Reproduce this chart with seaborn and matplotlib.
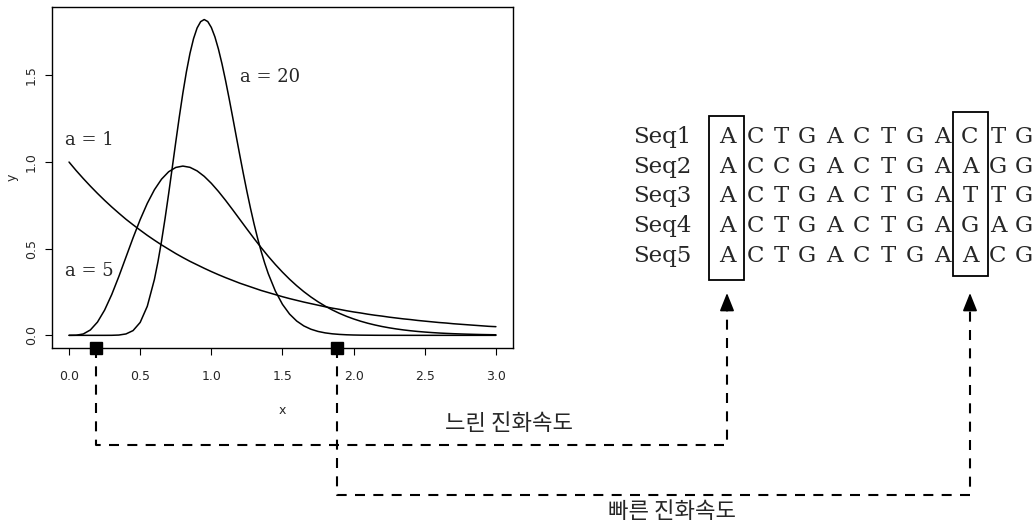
import numpy as np
import matplotlib
matplotlib.use('Agg')
import matplotlib.pyplot as plt
import matplotlib.transforms as mtransforms
from matplotlib import font_manager
from matplotlib.patches import Rectangle
import seaborn as sns

# gamma densities (shape a, rate a)
x_grid = np.linspace(0, 3, 61)
y_a1 = [1.000, 0.951, 0.905, 0.861, 0.819, 0.779, 0.741, 0.705, 0.670, 0.638,
        0.607, 0.577, 0.549, 0.522, 0.497, 0.472, 0.449, 0.427, 0.407, 0.387,
        0.368, 0.350, 0.333, 0.317, 0.301, 0.287, 0.273, 0.259, 0.247, 0.235,
        0.223, 0.212, 0.202, 0.192, 0.183, 0.174, 0.165, 0.157, 0.150, 0.142,
        0.135, 0.129, 0.122, 0.116, 0.111, 0.105, 0.100, 0.095, 0.091, 0.086,
        0.082, 0.078, 0.074, 0.071, 0.067, 0.064, 0.061, 0.058, 0.055, 0.052,
        0.050]
y_a5 = [0.0, 0.0006, 0.0079, 0.0311, 0.0766, 0.1457, 0.2353, 0.3395, 0.4511, 0.5628,
        0.6680, 0.7617, 0.8402, 0.9012, 0.9440, 0.9689, 0.9768, 0.9695, 0.9490, 0.9176,
        0.8773, 0.8305, 0.7791, 0.7248, 0.6693, 0.6137, 0.5591, 0.5064, 0.4561, 0.4088,
        0.3646, 0.3237, 0.2863, 0.2521, 0.2213, 0.1935, 0.1687, 0.1466, 0.1270, 0.1097,
        0.0946, 0.0813, 0.0697, 0.0597, 0.0509, 0.0434, 0.0369, 0.0313, 0.0265, 0.0224,
        0.0190, 0.0160, 0.0134, 0.0113, 0.0095, 0.0080, 0.0067, 0.0056, 0.0046, 0.0039,
        0.0032]
x_a20 = [0.0, 0.1, 0.2, 0.25, 0.3, 0.35, 0.4, 0.45, 0.5, 0.55, 0.6,
         0.625, 0.65, 0.675, 0.7, 0.725, 0.75, 0.775, 0.8, 0.825, 0.85, 0.875,
         0.9, 0.925, 0.95, 0.975, 1.0, 1.025, 1.05, 1.075, 1.1, 1.125, 1.15,
         1.175, 1.2, 1.225, 1.25, 1.275, 1.3, 1.325, 1.35, 1.375, 1.4,
         1.45, 1.5, 1.55, 1.6, 1.65, 1.7, 1.75, 1.8, 1.85, 1.9, 1.95, 2.0,
         2.05, 2.1, 2.15, 2.2, 2.4, 2.6, 2.8, 3.0]
y_a20 = [0.0, 0.0, 0.0, 0.0, 0.0002, 0.0017, 0.0080, 0.0274, 0.0746, 0.1679, 0.3227,
         0.4252, 0.5433, 0.6750, 0.8171, 0.9654, 1.1150, 1.2610, 1.3981, 1.5216, 1.6274, 1.7121,
         1.7736, 1.8103, 1.8225, 1.8108, 1.7767, 1.7229, 1.6517, 1.5666, 1.4706, 1.3670, 1.2590,
         1.1490, 1.0397, 0.9330, 0.8307, 0.7341, 0.6438, 0.5608, 0.4852, 0.4170, 0.3562,
         0.2553, 0.1788, 0.1226, 0.0825, 0.0544, 0.0353, 0.0225, 0.0142, 0.0088, 0.0054, 0.0032, 0.0019,
         0.0011, 0.0007, 0.0004, 0.0002, 0.0, 0.0, 0.0, 0.0]

curve_labels = ['a = 1', 'a = 5', 'a = 20']
label_x = [0.14, 0.14, 1.41]
label_y = [1.125, 0.37, 1.49]

# sites marked on the x axis: slow rate, fast rate
marker_x = [0.19, 1.88]
rate_labels = ['느린 진화속도', '빠른 진화속도']

seq_names = ['Seq1', 'Seq2', 'Seq3', 'Seq4', 'Seq5']
seqs = ['ACTGACTGACTG', 'ACCGACTGAAGG', 'ACTGACTGATTG', 'ACTGACTGAGAG', 'ACTGACTGAACG']

W, H = 1033, 524


def pick_font(names):
    have = {f.name for f in font_manager.fontManager.ttflist}
    for n in names:
        if n in have:
            return n
    return 'DejaVu Sans'


sns.set_style('white')
plt.rcParams['font.family'] = ['DejaVu Sans']
narrow = pick_font(['Liberation Sans Narrow', 'DejaVu Sans Condensed', 'DejaVu Sans'])
kr = ['Noto Sans CJK KR', 'DejaVu Sans']

fig = plt.figure(figsize=(W / 100, H / 100), dpi=100)
ax = fig.add_axes([0.0503, 0.3359, 0.4463, 0.6508])

sns.lineplot(x=x_grid, y=y_a1, ax=ax, color='black', lw=1.1)
sns.lineplot(x=x_grid, y=y_a5, ax=ax, color='black', lw=1.1)
sns.lineplot(x=x_a20, y=y_a20, ax=ax, color='black', lw=1.1)

for lab, lx, ly in zip(curve_labels, label_x, label_y):
    ax.text(lx, ly, lab, ha='center', va='center', fontsize=13, family='DejaVu Serif')

ax.set_xlim(-0.12, 3.12)
ax.set_ylim(-0.073, 1.895)
ax.set_xticks([0, 0.5, 1.0, 1.5, 2.0, 2.5, 3.0])
ax.set_xticklabels(['0.0', '0.5', '1.0', '1.5', '2.0', '2.5', '3.0'], family=narrow, fontsize=9)
ax.set_yticks([0, 0.5, 1.0, 1.5])
ax.set_yticklabels(['0.0', '0.5', '1.0', '1.5'], rotation=90, va='center', fontsize=9)
ax.tick_params(bottom=True, left=True, direction='out', length=5, width=0.8, color='black')
ax.tick_params(axis='x', pad=11)
ax.tick_params(axis='y', pad=5)
for s in ax.spines.values():
    s.set_visible(True)
    s.set_color('black')
    s.set_linewidth(1.0)
ax.set_xlabel('x', fontsize=9)
ax.set_ylabel('y', fontsize=9)
ax.xaxis.set_label_coords(0.5, -0.182)
ax.xaxis.label.set_va('center')
ax.yaxis.set_label_coords(-0.087, 0.5)
ax.yaxis.label.set_va('center')

trans = mtransforms.blended_transform_factory(ax.transData, ax.transAxes)
ax.plot(marker_x, [0, 0], 's', ms=9, color='black', transform=trans, clip_on=False, zorder=6)

# overlay in pixel coordinates for the alignment panel and connectors
ov = fig.add_axes([0, 0, 1, 1])
ov.set_xlim(0, W)
ov.set_ylim(H, 0)
ov.axis('off')
ov.patch.set_alpha(0)

row_base = [143, 172.7, 202.4, 232.1, 261.8]
col_x = [727, 755, 781, 807, 834, 861, 888, 915, 942, 970, 998, 1024]
for name, seq, yb in zip(seq_names, seqs, row_base):
    ov.text(633, yb, name, ha='left', va='baseline', fontsize=16.5, family='DejaVu Serif')
    for ch, cx in zip(seq, col_x):
        ov.text(cx, yb, ch, ha='center', va='baseline', fontsize=16.5, family='DejaVu Serif')

ov.add_patch(Rectangle((709, 116), 35, 164, fill=False, lw=1.3, ec='black'))
ov.add_patch(Rectangle((953, 112), 35, 164, fill=False, lw=1.3, ec='black'))

ax_bottom = H - ax.transAxes.transform((0, 0))[1]
targets = [col_x[0], col_x[9]]
levels = [445, 495]
dash = (0, (4.8, 4.0))
for mx, tx, hy in zip(marker_x, targets, levels):
    px = ax.transData.transform((mx, 0))[0]
    ov.plot([px, px, tx, tx], [ax_bottom, hy, hy, 309], color='black', lw=1.5, ls=dash)
    ov.annotate('', xy=(tx, 293), xytext=(tx, 309),
                arrowprops=dict(arrowstyle='-|>,head_length=0.55,head_width=0.22',
                                color='black', lw=1.2, shrinkA=0, shrinkB=0,
                                mutation_scale=20))

ov.text(509, 424, rate_labels[0], ha='center', va='center', fontsize=16, family=kr)
ov.text(672, 512, rate_labels[1], ha='center', va='center', fontsize=16, family=kr)

fig.savefig('out.png', dpi=100)
